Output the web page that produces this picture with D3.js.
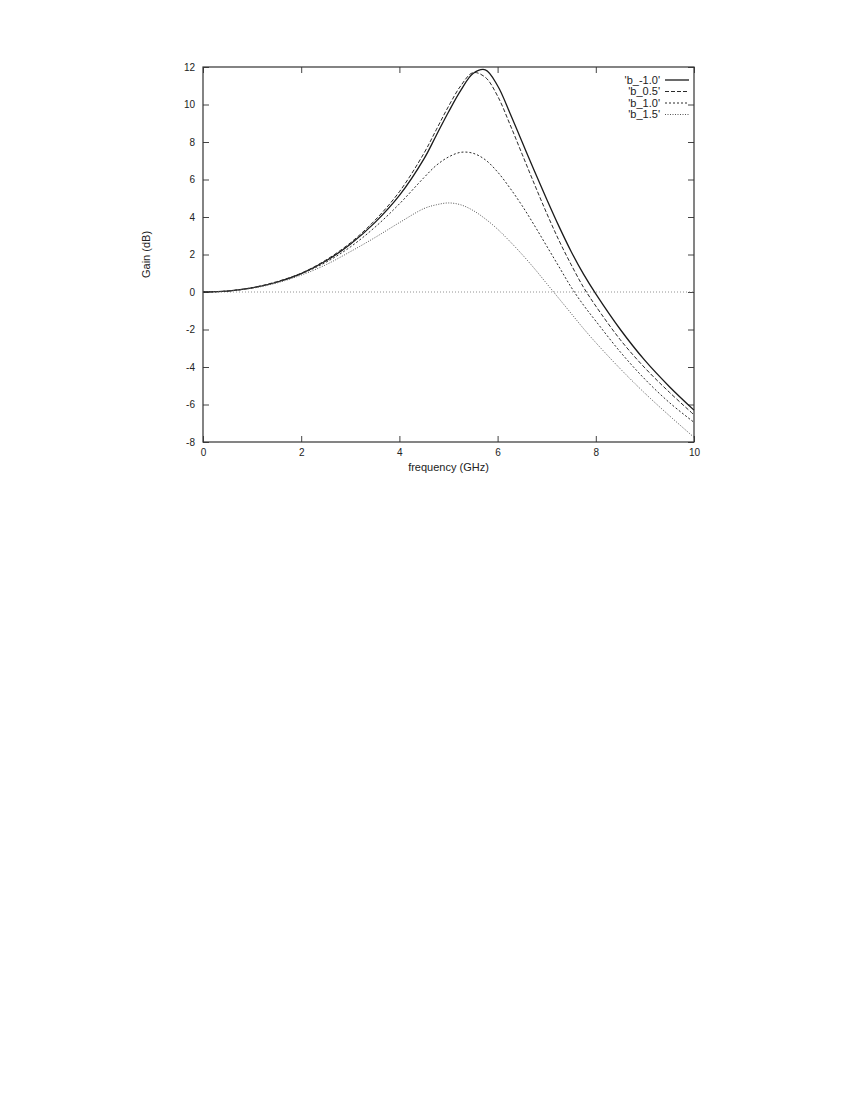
<!DOCTYPE html>
<html>
<head>
<meta charset="utf-8">
<script src="https://cdn.jsdelivr.net/npm/d3@7"></script>
<style>
  body { margin: 0; background: #fff; }
  svg text { font-family: "Liberation Sans", Arial, Helvetica, sans-serif; fill: #222; }
</style>
</head>
<body>
<script>
var freq = [0, 0.5, 1, 1.5, 2, 2.5, 3, 3.5, 4, 4.5, 4.75, 5, 5.25, 5.5, 5.75,
            6, 6.25, 6.5, 6.75, 7, 7.25, 7.5, 7.75, 8, 8.5, 9, 9.5, 10];

var gainBm10 = [0, 0.05, 0.22, 0.52, 0.98, 1.65, 2.55, 3.7, 5.15, 7.1, 8.35, 9.6, 10.75, 11.65, 11.85,
                11.0, 9.55, 8.0, 6.45, 4.95, 3.5, 2.15, 0.95, -0.1, -2.0, -3.65, -5.05, -6.3];
var gainB05  = [0, 0.05, 0.23, 0.55, 1.0, 1.7, 2.62, 3.82, 5.35, 7.4, 8.65, 9.9, 11.0, 11.7, 11.45,
                10.45, 8.95, 7.35, 5.75, 4.2, 2.75, 1.45, 0.25, -0.75, -2.55, -4.05, -5.35, -6.55];
var gainB10  = [0, 0.05, 0.22, 0.52, 0.97, 1.58, 2.4, 3.45, 4.7, 6.1, 6.75, 7.2, 7.45, 7.4, 7.05,
                6.4, 5.55, 4.6, 3.55, 2.45, 1.35, 0.25, -0.7, -1.55, -3.2, -4.65, -5.9, -6.95];
var gainB15  = [0, 0.05, 0.2, 0.48, 0.9, 1.45, 2.15, 2.9, 3.7, 4.45, 4.65, 4.75, 4.65, 4.35, 3.9,
                3.35, 2.7, 2.0, 1.25, 0.45, -0.35, -1.15, -1.95, -2.7, -4.1, -5.4, -6.6, -7.75];

var seriesNames = ["'b_-1.0'", "'b_0.5'", "'b_1.0'", "'b_1.5'"];
var xTicks = [0, 2, 4, 6, 8, 10];
var yTicks = [-8, -6, -4, -2, 0, 2, 4, 6, 8, 10, 12];

var styles = [
  { dash: null,  color: "#1a1a1a", width: 1.3 },
  { dash: "4,2", color: "#2a2a2a", width: 1 },
  { dash: "2,2", color: "#2a2a2a", width: 1 },
  { dash: "1,1.5", color: "#555", width: 1 }
];

var plotL = 203, plotR = 694, plotT = 67, plotB = 442;

var svg = d3.select("body").append("svg")
    .attr("width", 850).attr("height", 1100);

var x = d3.scaleLinear().domain([0, 10]).range([plotL, plotR]);
var y = d3.scaleLinear().domain([-8, 12]).range([plotB, plotT]);

// plain hyphen minus, like the original
var fmt = function(d) { return String(d); };

// axes, ticks pointing inward on all four sides
var g = svg.append("g").style("font-size", "11px");

g.append("g").attr("transform", "translate(0," + plotB + ")")
  .call(d3.axisBottom(x).tickValues(xTicks).tickFormat(fmt).tickSize(-6).tickSizeOuter(0).tickPadding(7));
g.append("g").attr("transform", "translate(0," + plotT + ")")
  .call(d3.axisTop(x).tickValues(xTicks).tickSize(-6).tickSizeOuter(0).tickFormat(""));
g.append("g").attr("transform", "translate(" + plotL + ",0)")
  .call(d3.axisLeft(y).tickValues(yTicks).tickFormat(fmt).tickSize(-6).tickSizeOuter(0).tickPadding(8));
g.append("g").attr("transform", "translate(" + plotR + ",0)")
  .call(d3.axisRight(y).tickValues(yTicks).tickSize(-6).tickSizeOuter(0).tickFormat(""));

g.selectAll(".domain").remove();
g.selectAll(".tick line").attr("stroke", "#444");
g.selectAll(".tick text").attr("fill", "#222").style("font-family", "'Liberation Sans', Arial, sans-serif");

// frame
svg.append("rect")
  .attr("x", plotL).attr("y", plotT)
  .attr("width", plotR - plotL).attr("height", plotB - plotT)
  .attr("fill", "none").attr("stroke", "#333").attr("stroke-width", 1.2);

// zero axis
svg.append("line")
  .attr("x1", x(0)).attr("x2", x(10))
  .attr("y1", y(0)).attr("y2", y(0))
  .attr("stroke", "#777").attr("stroke-width", 0.8)
  .attr("stroke-dasharray", "1,2");

// curves
var allGains = [gainBm10, gainB05, gainB10, gainB15];
var line = d3.line()
  .x(function(d) { return x(d[0]); })
  .y(function(d) { return y(d[1]); })
  .curve(d3.curveCatmullRom.alpha(0.5));

allGains.forEach(function(gains, i) {
  var pts = freq.map(function(f, j) { return [f, gains[j]]; });
  svg.append("path")
    .attr("d", line(pts))
    .attr("fill", "none")
    .attr("stroke", styles[i].color)
    .attr("stroke-width", styles[i].width)
    .attr("stroke-dasharray", styles[i].dash);
});

// legend
var legend = svg.append("g").attr("transform", "translate(660,80)");
seriesNames.forEach(function(name, i) {
  var row = legend.append("g").attr("transform", "translate(0," + (i * 11.5) + ")");
  row.append("text")
    .attr("text-anchor", "end")
    .attr("dy", "0.35em")
    .style("font-size", "11px")
    .text(name);
  row.append("line")
    .attr("x1", 5).attr("x2", 29)
    .attr("y1", 0).attr("y2", 0)
    .attr("stroke", styles[i].color)
    .attr("stroke-width", styles[i].width)
    .attr("stroke-dasharray", styles[i].dash);
});

// axis titles
svg.append("text")
  .attr("x", (plotL + plotR) / 2).attr("y", 471)
  .attr("text-anchor", "middle")
  .style("font-size", "11px")
  .text("frequency (GHz)");

svg.append("text")
  .attr("transform", "translate(150," + ((plotT + plotB) / 2) + ") rotate(-90)")
  .attr("text-anchor", "middle")
  .style("font-size", "11px")
  .text("Gain (dB)");
</script>
</body>
</html>
